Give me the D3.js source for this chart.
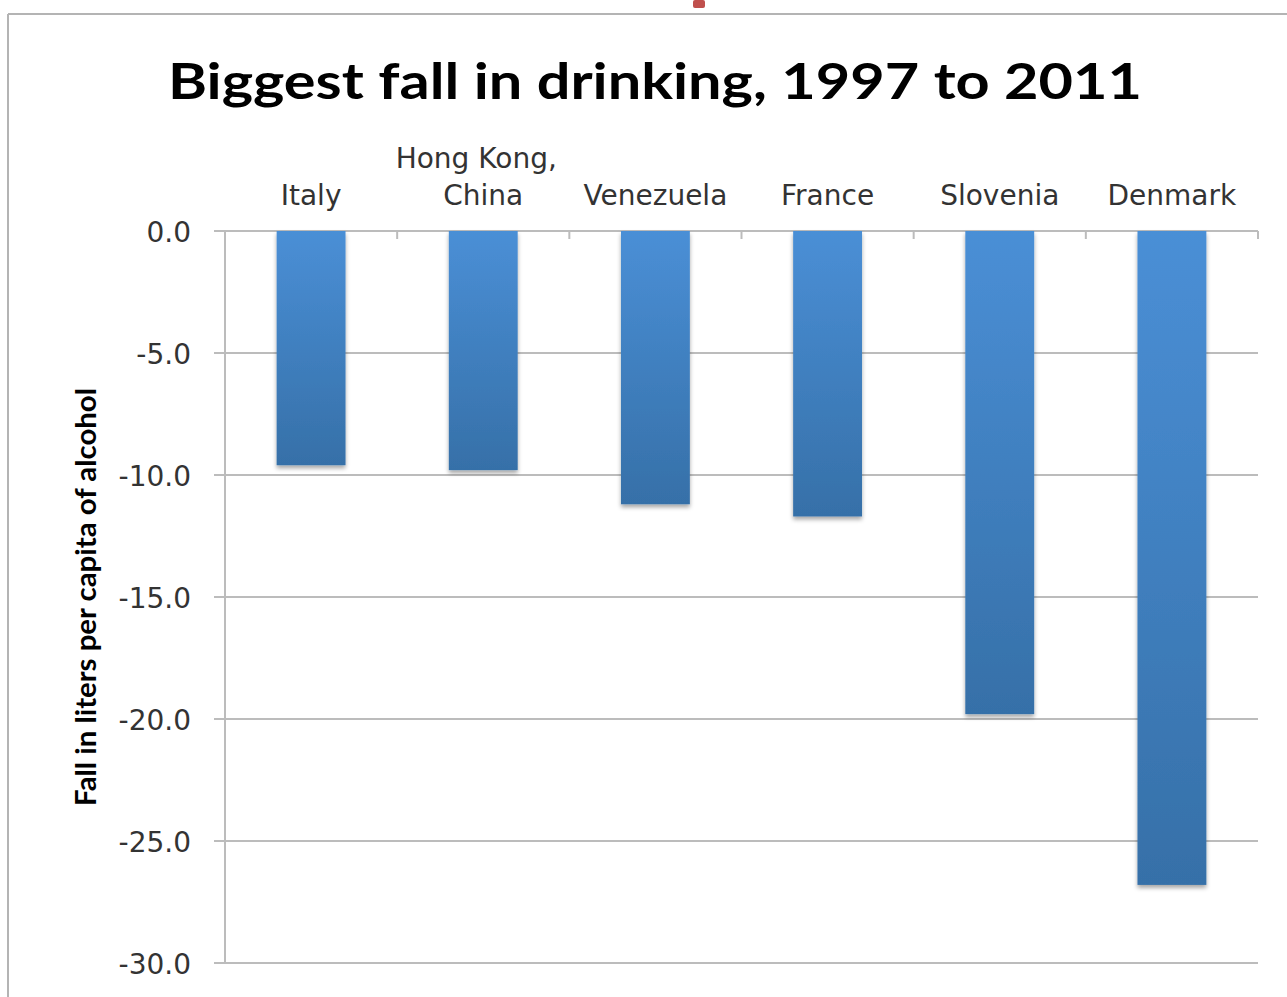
<!DOCTYPE html>
<html>
<head>
<meta charset="utf-8">
<script src="https://cdn.jsdelivr.net/npm/d3@7"></script>
<style>
  body { margin: 0; background: #fff; }
  svg { display: block; }
</style>
</head>
<body>
<div id="chart"></div>
<script>
var countries = ["Italy", "Hong Kong,|China", "Venezuela", "France", "Slovenia", "Denmark"];
var fall = [-9.6, -9.8, -11.2, -11.7, -19.8, -26.8];
var yTicks = [0, -5, -10, -15, -20, -25, -30];
var title = "Biggest fall in drinking, 1997 to 2011";
var yTitle = "Fall in liters per capita of alcohol";

var width = 1287, height = 997;
var margin = { left: 225, right: 29, top: 231, bottom: 34 };

var svg = d3.select("#chart").append("svg")
  .attr("width", width).attr("height", height);

var defs = svg.append("defs");
var grad = defs.append("linearGradient").attr("id", "barGrad")
  .attr("x1", 0).attr("y1", 0).attr("x2", 0).attr("y2", 1);
grad.append("stop").attr("offset", "0%").attr("stop-color", "#4a8fd6");
grad.append("stop").attr("offset", "100%").attr("stop-color", "#3670a8");
var shadow = defs.append("filter").attr("id", "shadow")
  .attr("x", "-10%").attr("y", "-5%").attr("width", "120%").attr("height", "115%");
shadow.append("feDropShadow").attr("dx", 0).attr("dy", 3).attr("stdDeviation", 2)
  .attr("flood-color", "#000").attr("flood-opacity", 0.35);

// frame of the pasted chart image
svg.append("line").attr("x1", 8).attr("x2", width).attr("y1", 14).attr("y2", 14)
  .attr("stroke", "#b4b4b4").attr("stroke-width", 2);
svg.append("line").attr("x1", 8).attr("x2", 8).attr("y1", 14).attr("y2", height)
  .attr("stroke", "#b4b4b4").attr("stroke-width", 2);
svg.append("rect").attr("x", 693).attr("y", 0).attr("width", 12).attr("height", 8)
  .attr("rx", 2).attr("fill", "#c0504d");

var x = d3.scaleBand().domain(countries)
  .range([margin.left, width - margin.right]).paddingInner(0.6).paddingOuter(0.3);
var y = d3.scaleLinear().domain([0, -30])
  .range([margin.top, height - margin.bottom]);

// gridlines
svg.append("g").selectAll("line").data(yTicks).enter().append("line")
  .attr("x1", margin.left - 11).attr("x2", width - margin.right)
  .attr("y1", function(d) { return y(d); }).attr("y2", function(d) { return y(d); })
  .attr("stroke", "#bcbcbc").attr("stroke-width", 2);

// y axis line
svg.append("line").attr("x1", margin.left).attr("x2", margin.left)
  .attr("y1", y(0)).attr("y2", y(-30))
  .attr("stroke", "#bcbcbc").attr("stroke-width", 2);

// category ticks on the zero line
var step = x.step();
var bounds = countries.map(function(c) { return x(c) - (step - x.bandwidth()) / 2; });
bounds.push(width - margin.right);
bounds[0] = margin.left;
svg.append("g").selectAll("line").data(bounds).enter().append("line")
  .attr("x1", function(d) { return d; }).attr("x2", function(d) { return d; })
  .attr("y1", y(0)).attr("y2", y(0) + 8)
  .attr("stroke", "#bcbcbc").attr("stroke-width", 2);

// y tick labels
svg.append("g").selectAll("text").data(yTicks).enter().append("text")
  .attr("x", 191).attr("y", function(d) { return y(d); }).attr("dy", "0.4em")
  .attr("text-anchor", "end")
  .style("font-family", "DejaVu Sans").style("font-size", "28px").style("fill", "#333")
  .text(function(d) { return d3.format(".1f")(d).replace("−", "-"); });

// bars
svg.append("g").selectAll("rect").data(fall).enter().append("rect")
  .attr("x", function(d, i) { return x(countries[i]); })
  .attr("width", x.bandwidth())
  .attr("y", y(0))
  .attr("height", function(d) { return y(d) - y(0); })
  .attr("fill", "url(#barGrad)")
  .attr("filter", "url(#shadow)");

// category labels above the plot
var cat = svg.append("g").selectAll("text").data(countries).enter().append("text")
  .attr("text-anchor", "middle")
  .style("font-family", "DejaVu Sans").style("font-size", "28px").style("fill", "#333");
cat.each(function(d) {
  var lines = d.split("|");
  var t = d3.select(this);
  var cx = x(d) + x.bandwidth() / 2;
  lines.forEach(function(l, k) {
    t.append("tspan").attr("x", k === 0 && lines.length > 1 ? cx - 7 : cx)
      .attr("y", 205 - (lines.length - 1 - k) * 37).text(l);
  });
});

// title
svg.append("text").attr("x", 655).attr("y", 99).attr("text-anchor", "middle")
  .style("font-family", "Lato").style("font-weight", "bold").style("font-size", "50px")
  .style("fill", "#000")
  .attr("textLength", 974).attr("lengthAdjust", "spacingAndGlyphs")
  .text(title);

// y axis title
svg.append("text").attr("transform", "translate(96,597) rotate(-90)")
  .attr("text-anchor", "middle")
  .style("font-family", "Lato").style("font-weight", "bold").style("font-size", "28px")
  .style("fill", "#000")
  .attr("textLength", 418).attr("lengthAdjust", "spacingAndGlyphs")
  .text(yTitle);
</script>
</body>
</html>
